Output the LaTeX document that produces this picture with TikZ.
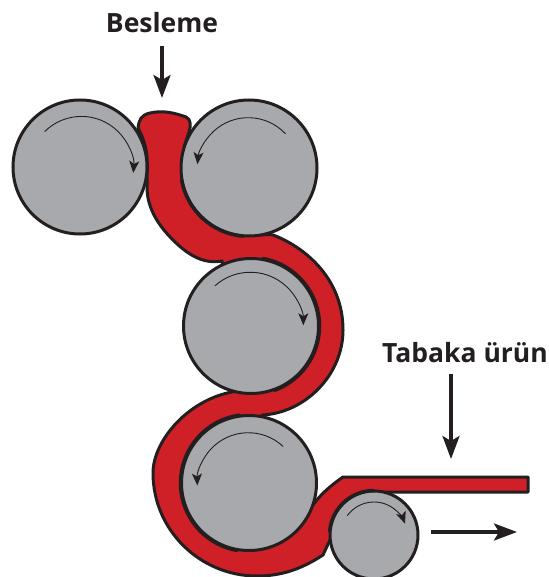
\documentclass[tikz,border=0pt]{standalone}
\usepackage{fontspec}
\setmainfont{Open Sans}
\usetikzlibrary{arrows.meta}
\definecolor{rollgray}{HTML}{A7A9AC}
\definecolor{sheetred}{HTML}{CF2027}
\definecolor{inkblack}{HTML}{231F20}
\tikzset{
  roll/.style={draw=inkblack,fill=rollgray,line width=3pt},
  contact/.style={draw=inkblack,line width=3.5pt,line cap=round},
  spin/.style={draw=inkblack,line width=.9pt,-{Stealth[length=12pt,width=10pt,inset=3pt]}},
  flow/.style={draw=inkblack,line width=3.4pt,-{Stealth[length=23pt,width=17pt,inset=5pt]}},
  caption/.style={font=\bfseries\fontsize{26.5}{30}\selectfont,text=inkblack,inner sep=0pt}
}
\begin{document}
\begin{tikzpicture}[x=1pt,y=-1pt]
\useasboundingbox (0,0) rectangle (548,577);
% sheet
\path[fill=sheetred,draw=inkblack,line width=3pt,line join=round]
  (138,128) .. controls (139,120) and (141,115) .. (150,113)
  .. controls (163,110) and (175,113) .. (186,117)
  .. controls (191,119) and (191,126) .. (189,132)
  -- (184,147) -- (258,235)
  .. controls (264,235) and (268,234) .. (273,235)
  .. controls (300,245) and (343,275) .. (343,330)
  .. controls (343,375) and (305,413) .. (262,415)
  -- (313,505)
  .. controls (320,495) and (330,486) .. (343,477)
  -- (528,477) -- (528,492) -- (373,492) -- (330,540) -- (323,555)
  .. controls (300,570) and (280,576) .. (257,576)
  .. controls (200,576) and (153,530) .. (153,473)
  .. controls (153,440) and (190,397) .. (238,391)
  -- (222,261)
  .. controls (205,264) and (190,257) .. (173,240)
  .. controls (155,222) and (147,205) .. (147,187)
  .. controls (147,165) and (150,150) .. (138,128)
  -- cycle;
% rolls
\node[roll,circle,minimum size=134pt,inner sep=0pt] (r1) at (80,167) {};
\node[roll,circle,minimum size=136pt,inner sep=0pt] (r2) at (249,168) {};
\node[roll,circle,minimum size=135pt,inner sep=0pt] (r3) at (251,326) {};
\node[roll,circle,minimum size=135pt,inner sep=0pt] (r4) at (249,483) {};
\node[roll,circle,minimum size=88pt,inner sep=0pt] (r5) at (374,535) {};
% thicker contact lines
\draw[contact] (r2.center) ++(170:68.5) arc (170:95:68.5);
\draw[contact] (r3.center) ++(280:68.5) arc (280:430:68.5);
\draw[contact] (r4.center) ++(262:68.5) arc (262:100:68.5);
\draw[contact] (r5.center) ++(270:44.5) arc (270:185:44.5);
% rotation arrows
\draw[spin] (r1.center) ++(225:50) arc (225:365:52);
\draw[spin] (r2.center) ++(317:50) arc (317:185:51);
\draw[spin] (r3.center) ++(228:54) arc (228:360:53);
\draw[spin] (r4.center) ++(313:50) arc (313:178:51);
\draw[spin] (r5.center) ++(216:33) arc (216:340:33);
% labels and flows
\node[caption] (feed) at (162,23) {Besleme};
\node[caption] (sheet) at (465,353) {Tabaka ürün};
\coordinate (feedtip) at (162,98);
\coordinate (sheettip) at (451,459);
\coordinate (outstart) at (431,532);
\coordinate (outtip) at (517,532);
\draw[flow] (feedtip |- 0,46) -- (feedtip);
\draw[flow] (sheettip |- 0,374) -- (sheettip);
\draw[flow] (outstart) -- (outtip);
\end{tikzpicture}
\end{document}
